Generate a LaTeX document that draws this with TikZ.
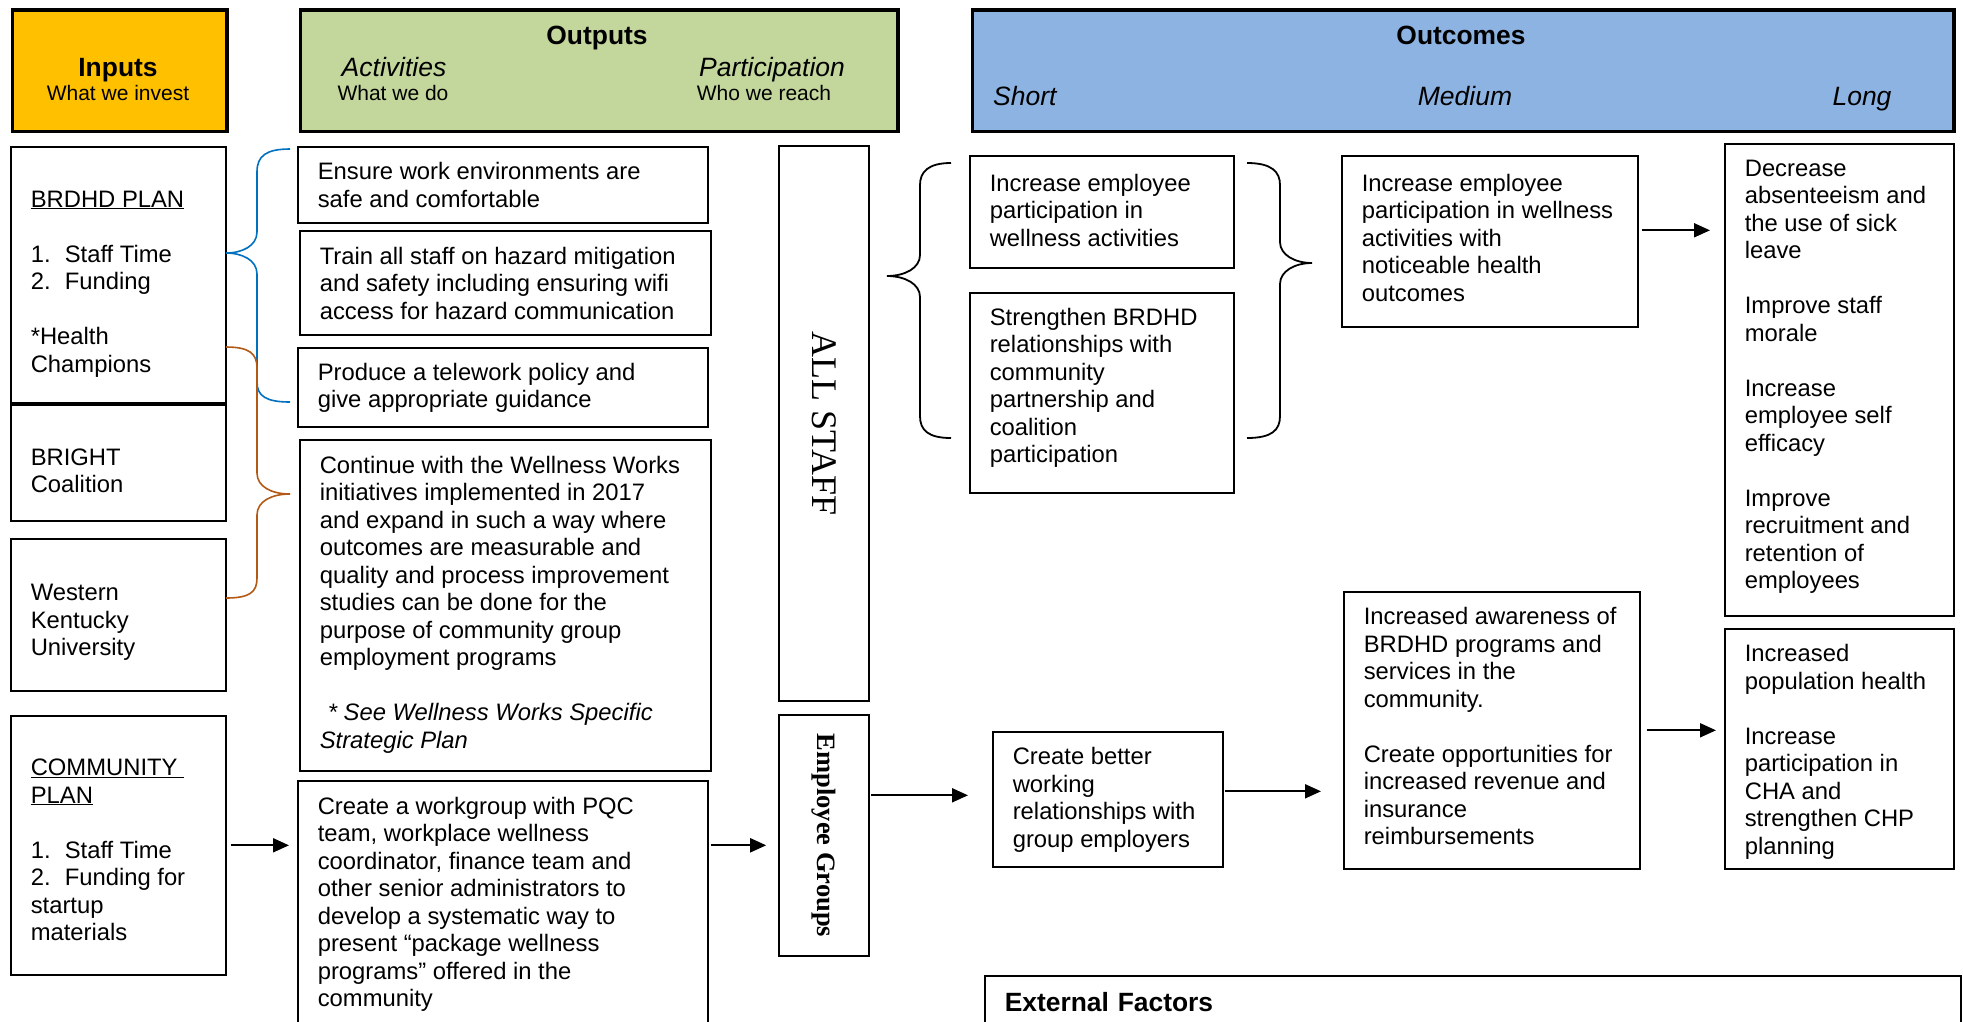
\documentclass[tikz,border=0pt]{standalone}
\usepackage{fontspec}
\setmainfont{Liberation Sans}
\newfontfamily\timesfont{Liberation Serif}
\usepackage{tikz}
\usetikzlibrary{arrows.meta,positioning}

\definecolor{inputgold}{RGB}{255,192,0}
\definecolor{outputgreen}{RGB}{195,214,155}
\definecolor{outcomeblue}{RGB}{141,179,226}
\definecolor{bracebrown}{RGB}{178,89,22}
\definecolor{braceblue}{RGB}{0,112,192}

% box text: [top gap]{height}{width}{lines}
\newcommand{\planbox}[4][14pt]{\makebox[#3][l]{\parbox[c][#2][t]{\dimexpr#3+20pt\relax}{\raggedright\vspace*{#1}\strut#4}}}

\begin{document}
\begin{tikzpicture}
 [x=1pt, y=-1pt, >={Triangle[length=16pt,width=14pt]},
  head box/.style={draw, line width=3.5pt, anchor=north west},
  head title/.style={inner sep=0pt, text height=20pt, text depth=6pt, font=\fontsize{26.4}{30}\selectfont\bfseries},
  head sub/.style={inner sep=0pt, text height=20pt, text depth=6pt, font=\fontsize{26.5}{30}\selectfont\itshape},
  head note/.style={inner sep=0pt, font=\fontsize{21}{24}\selectfont},
  plan box/.style={draw, line width=1.6pt, anchor=north west, inner xsep=20pt, inner ysep=0pt, font=\fontsize{23.8}{27.5}\selectfont},
  group box/.style={draw, line width=1.6pt, rotate=-90, inner sep=0pt, minimum height=90pt},
  link/.style={->, line width=2pt}]

\useasboundingbox (0,0) rectangle (1963,1021);
\clip (0,0) rectangle (1963,1021);

% headers
\node[head box, fill=inputgold, minimum width=214.5pt, minimum height=121.5pt] (inputs) at (10.5,8) {};
\node[head box, fill=outputgreen, minimum width=597.5pt, minimum height=121.5pt] (outputs) at (298.5,8) {};
\node[head box, fill=outcomeblue, minimum width=981.5pt, minimum height=121.5pt] (outcomes) at (970.7,8) {};

\node[head title] (inputs title) at (118,69.7) {Inputs};
\node[head note] (inputs note) at (118,93) {What we invest};
\node[head title] (outputs title) at (597,37.7) {Outputs};
\node[head sub] (activities) at (394,69) {Activities};
\node[head note] (activities note) at (393,93) {What we do};
\node[head sub] (participation) at (772,69) {Participation};
\node[head note] (participation note) at (764,93) {Who we reach};
\node[head title] (outcomes title) at (1461,37.5) {Outcomes};
\node[head sub, anchor=west] (short) at (993,98.7) {Short};
\node[head sub] (medium) at (1465,98.7) {Medium};
\node[head sub] (long) at (1862,98.7) {Long};

% inputs
\node[plan box] (brdhd) at (10,146) {\planbox[41pt]{256pt}{175pt}
 {\underline{BRDHD PLAN}\\[27.5pt]
  \makebox[34pt][l]{1.}Staff Time\\
  \makebox[34pt][l]{2.}Funding\\[27.5pt]
  *Health\\
  Champions}};
\node[plan box] (bright) at (10,404) {\planbox[41pt]{116pt}{175pt}
 {BRIGHT\\Coalition}};
\node[plan box] (wku) at (10,538) {\planbox[42.5pt]{152pt}{175pt}
 {Western\\Kentucky\\University}};
\node[plan box] (community) at (10,715) {\planbox[40.5pt]{259pt}{175pt}
 {\underline{COMMUNITY\ }\\
  \underline{PLAN}\\[27.5pt]
  \makebox[34pt][l]{1.}Staff Time\\
  \makebox[34pt][l]{2.}Funding for\\
  startup\\
  materials}};

% activities
\node[plan box] (safe) at (297,146) {\planbox[13.5pt]{76pt}{370pt}
 {Ensure work environments are\\safe and comfortable}};
\node[plan box] (hazard) at (299,230) {\planbox{104pt}{371pt}
 {Train all staff on hazard mitigation\\and safety including ensuring wifi\\access for hazard communication}};
\node[plan box] (telework) at (297,347) {\planbox[13pt]{79pt}{370pt}
 {Produce a telework policy and\\give appropriate guidance}};
\node[plan box] (wellness) at (299,439) {\planbox{331pt}{371pt}
 {Continue with the Wellness Works\\
  initiatives implemented in 2017\\
  and expand in such a way where\\
  outcomes are measurable and\\
  quality and process improvement\\
  studies can be done for the\\
  purpose of community group\\
  employment programs\\[27.5pt]
  \hspace*{8pt}\textit{* See Wellness Works Specific}\\
  \textit{Strategic Plan}}};
\node[plan box] (workgroup) at (297,780) {\planbox{245pt}{370pt}
 {Create a workgroup with PQC\\
  team, workplace wellness\\
  coordinator, finance team and\\
  other senior administrators to\\
  develop a systematic way to\\
  present “package wellness\\
  programs” offered in the\\
  community}};

% participation
\node[group box, minimum width=555pt, font=\timesfont\fontsize{36}{40}\selectfont] (all staff) at (824,423.5) {ALL STAFF};
\node[group box, minimum width=241pt, font=\timesfont\fontsize{26.5}{30}\selectfont\bfseries] (employee groups) at (824,835.5) {Employee Groups};

% outcomes
\node[plan box] (short one) at (969,155) {\planbox[16pt]{112pt}{224pt}
 {Increase employee\\participation in\\wellness activities}};
\node[plan box] (short two) at (969,292) {\planbox[13pt]{200pt}{224pt}
 {Strengthen BRDHD\\relationships with\\community\\partnership and\\coalition\\participation}};
\node[plan box] (short three) at (992,731) {\planbox[13.5pt]{135pt}{190pt}
 {Create better\\working\\relationships with\\group employers}};
\node[plan box] (medium one) at (1341,155) {\planbox[16pt]{171pt}{256pt}
 {Increase employee\\participation in wellness\\activities with\\noticeable health\\outcomes}};
\node[plan box] (medium two) at (1343,591) {\planbox[13.5pt]{277pt}{256pt}
 {Increased awareness of\\
  BRDHD programs and\\
  services in the\\
  community.\\[27.5pt]
  Create opportunities for\\
  increased revenue and\\
  insurance\\
  reimbursements}};
\node[plan box] (long one) at (1724,143) {\planbox[13pt]{472pt}{189pt}
 {Decrease\\absenteeism and\\the use of sick\\leave\\[27.5pt]
  Improve staff\\morale\\[27.5pt]
  Increase\\employee self\\efficacy\\[27.5pt]
  Improve\\recruitment and\\retention of\\employees}};
\node[plan box] (long two) at (1724,628) {\planbox[13.5pt]{240pt}{189pt}
 {Increased\\population health\\[27.5pt]
  Increase\\participation in\\CHA and\\strengthen CHP\\planning}};
\node[plan box, align=left, text width=936pt, minimum height=52pt, font=\fontsize{26.4}{30}\selectfont\bfseries] (external) at (984,975)
 {External Factors};

% braces
\draw[braceblue, line width=1.6pt] (290,149) .. controls (266,149) and (257,156) .. (257,172) -- (257,232)
  .. controls (257,246) and (242,253) .. (226,253) .. controls (242,253) and (257,260) .. (257,274) -- (257,382)
  .. controls (257,396) and (266,402) .. (290,402);
\draw[bracebrown, line width=1.6pt] (226,347) .. controls (250,347) and (257,354) .. (257,368) -- (257,473)
  .. controls (257,487) and (272,494) .. (290,494) .. controls (272,494) and (257,501) .. (257,515) -- (257,578)
  .. controls (257,592) and (250,598) .. (226,598);
\draw[line width=1.8pt] (951,163) .. controls (928,163) and (920,172) .. (920,185) -- (920,255)
  .. controls (920,268) and (905,276) .. (887,276) .. controls (905,276) and (920,284) .. (920,297) -- (920,416)
  .. controls (920,430) and (928,438) .. (951,438);
\draw[line width=1.8pt] (1247,163) .. controls (1272,163) and (1280,172) .. (1280,185) -- (1280,242)
  .. controls (1280,255) and (1295,263) .. (1312,263) .. controls (1295,263) and (1280,271) .. (1280,284) -- (1280,416)
  .. controls (1280,430) and (1272,438) .. (1247,438);

% arrows
\draw[link, shorten <=4pt, shorten >=8pt] (community.east) -- (community.east -| workgroup.west);
\draw[link, shorten <=2pt, shorten >=12pt] (community.east -| workgroup.east) -- (community.east -| employee groups.south);
\draw[link, shorten <=1pt, shorten >=24pt] ([yshift=4pt]short three.west -| employee groups.north) -- ([yshift=4pt]short three.west);
\draw[link, shorten <=1pt, shorten >=22pt] ([yshift=8pt]short three.east) -- ([yshift=8pt]short three.east -| medium two.west);
\draw[link, shorten <=6pt, shorten >=8pt] (medium two.east) -- (medium two.east -| long two.west);
\draw[link, shorten <=3pt, shorten >=14pt] ([yshift=11pt]medium one.east) -- ([yshift=11pt]medium one.east -| long one.west);

\end{tikzpicture}
\end{document}
